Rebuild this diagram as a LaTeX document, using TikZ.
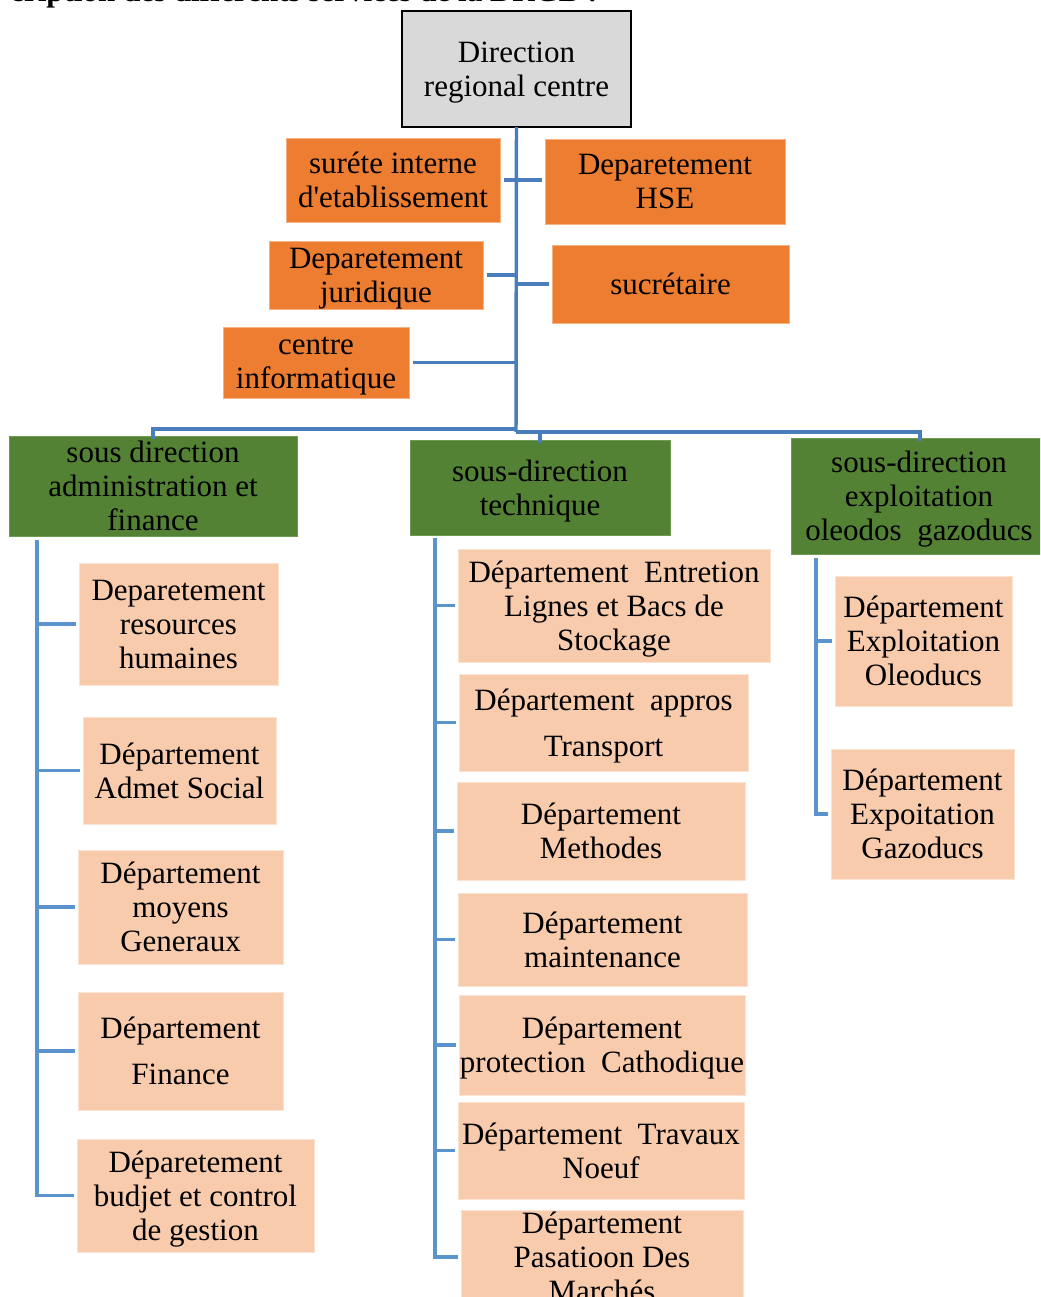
\documentclass[tikz,border=0pt]{standalone}
\usepackage{fontspec}
\setmainfont{Liberation Serif}
\definecolor{boxorange}{HTML}{ED7D31}
\definecolor{boxorangeedge}{HTML}{F4B183}
\definecolor{boxpeach}{HTML}{F8CBAD}
\definecolor{boxpeachedge}{HTML}{FBE3D4}
\definecolor{boxgreen}{HTML}{548235}
\definecolor{boxgreenedge}{HTML}{6F9A52}
\definecolor{boxgray}{HTML}{D9D9D9}
\definecolor{linkblue}{HTML}{4A7EBB}
\definecolor{linklight}{HTML}{5B93CC}

\begin{document}
\begin{tikzpicture}[x=0.75pt,y=-0.75pt,
  wh/.style 2 args={minimum width=#1*0.75pt,minimum height=#2*0.75pt},
  unit/.style={inner sep=0pt,outer sep=0pt,align=center,text depth=0pt,
    font=\fontsize{23.25pt}{25.5pt}\selectfont},
  headbox/.style={unit,fill=boxgray,draw=black,line width=1.5pt},
  staffbox/.style={unit,fill=boxorange,draw=boxorangeedge,line width=0.6pt},
  subbox/.style={unit,fill=boxgreen,draw=boxgreenedge,line width=0.6pt},
  deptbox/.style={unit,fill=boxpeach,draw=boxpeachedge,line width=0.6pt},
  link/.style={draw=linkblue,line width=2.6pt},
  branch/.style={draw=linklight,line width=2.4pt},
]
\useasboundingbox (0,0) rectangle (1040,1297);
\clip (0,0) rectangle (1040,1297);

% heading line above the chart
\node[anchor=base east,inner sep=0pt,font=\fontsize{23.25pt}{25.5pt}\selectfont\bfseries]
  (title) at (598,1) {cription des différents services de la DRGB :};

% direction and attached services
\node[headbox,wh={229}{116}] (dir) at (516.5,69) {Direction\\regional centre};
\node[staffbox,wh={214}{84}] (sur) at (393,180) {suréte interne\\d\textquotesingle etablissement};
\node[staffbox,wh={240}{85}] (hse) at (665,181.5) {Deparetement\\HSE};
\node[staffbox,wh={214}{68}] (jur) at (376,275) {Deparetement\\juridique};
\node[staffbox,wh={237}{78}] (sec) at (670.5,284) {sucrétaire};
\node[staffbox,wh={186}{71}] (inf) at (316,362.5) {centre\\informatique};

% sub-directions
\node[subbox,wh={288}{100}] (adm) at (153,486) {sous direction\\administration et\\finance};
\node[subbox,wh={260}{95}] (tec) at (540,487.5) {sous-direction\\technique};
\node[subbox,wh={256}{116}] (exp) at (919,496) {sous-direction\\exploitation\\oleodos\ \ gazoducs};

% administration and finance departments
\node[deptbox,wh={199}{122}] (rh) at (178.5,624) {Deparetement\\resources\\humaines};
\node[deptbox,wh={193}{107}] (soc) at (179.5,770.5) {Département\\Admet Social};
\node[deptbox,wh={205}{114}] (moy) at (180.5,907) {Département\\moyens\\Generaux};
\node[deptbox,wh={205}{118}] (fin) at (180.5,1051) {Département\\[9pt]Finance};
\node[deptbox,wh={237}{113}] (bud) at (195.5,1195.5) {Déparetement\\budjet et control\\de gestion};

% technical departments
\node[deptbox,wh={312}{113}] (ent) at (614,605.5) {Département\ \ Entretion\\Lignes et Bacs de\\Stockage};
\node[deptbox,wh={289}{97}] (app) at (603.5,722.5) {Département\ \ appros\\[9pt]Transport};
\node[deptbox,wh={288}{98}] (met) at (601,831) {Département\\Methodes};
\node[deptbox,wh={289}{93}] (mai) at (602.5,939.5) {Département\\maintenance};
\node[deptbox,wh={286}{100}] (cat) at (602,1045) {Département\\protection\ \ Cathodique};
\node[deptbox,wh={286}{97}] (tra) at (601,1150.5) {Département\ \ Travaux\\Noeuf};
\node[deptbox,wh={282}{94}] (pas) at (602,1257) {Département\\Pasatioon Des\\Marchés};

% pipeline operation departments
\node[deptbox,wh={177}{130}] (ole) at (923.5,641) {Département\\Exploitation\\Oleoducs};
\node[deptbox,wh={183}{130}] (gaz) at (922.5,814) {Département\\Expoitation\\Gazoducs};

% trunk and bus
\coordinate (hubL) at (516,429);
\coordinate (hubR) at (516,432);
\draw[link] (dir.south) -- (hubR);
\draw[link,shorten <=3pt,shorten >=2pt] (sur.east) -- (sur.east -| hse.west);
\draw[link,shorten <=3pt] (jur.east) -- (jur.east -| dir.south);
\draw[link,shorten <=2pt] (sec.west) -- (sec.west -| dir.south);
\draw[link,shorten <=3pt] (inf.east) -- (inf.east -| dir.south);
\draw[link] ([yshift=-2pt]adm.north) |- (hubL);
\draw[link] ([yshift=-2pt]tec.north) |- (hubR);
\draw[link] ([yshift=-2pt]exp.north -| 920,0) |- (hubR);

% department branches
\coordinate (colL) at (37,540);
\coordinate (colM) at (435,538);
\coordinate (colR) at (816,558);
\draw[branch,shorten >=2pt] (colL) |- (bud.west);
\foreach \d in {rh,soc,moy,fin}
  \draw[branch,shorten >=2pt] (\d.west -| colL) -- (\d.west);
\draw[branch,shorten >=2pt] (colM) |- (pas.west);
\foreach \d in {ent,app,met,mai,cat,tra}
  \draw[branch,shorten >=2pt] (\d.west -| colM) -- (\d.west);
\draw[branch,shorten >=2pt] (colR) |- (gaz.west);
\draw[branch,shorten >=2pt] (ole.west -| colR) -- (ole.west);
\end{tikzpicture}
\end{document}
